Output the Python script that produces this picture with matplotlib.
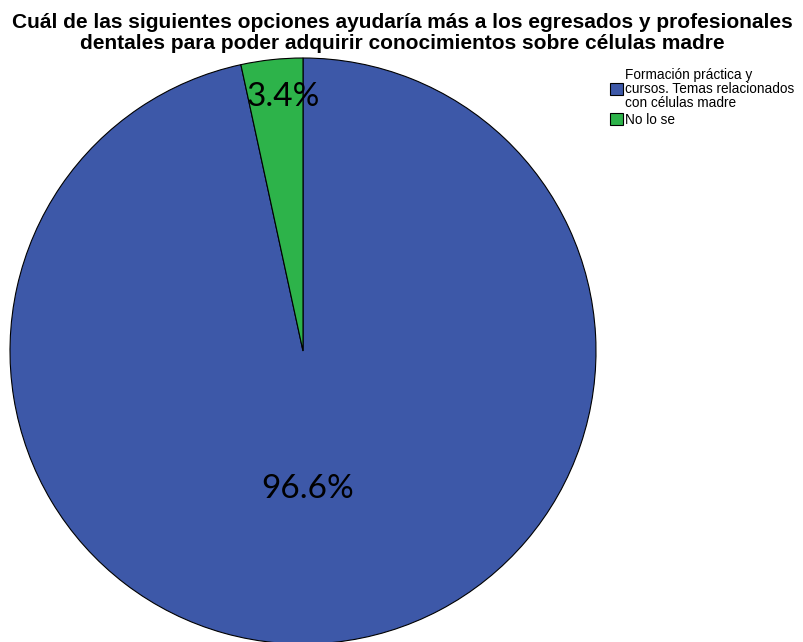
import matplotlib.pyplot as plt

categories = ["Formación práctica y\ncursos. Temas relacionados\ncon células madre", "No lo se"]
percentages = [96.6, 3.4]
colors = ["#3d58a8", "#2db34a"]
title = ("Cuál de las siguientes opciones ayudaría más a los egresados y profesionales\n"
         "dentales para poder adquirir conocimientos sobre células madre")

W, H = 804, 642
fig = plt.figure(figsize=(W / 100, H / 100), dpi=100)
fig.patch.set_facecolor("white")

cx, cy, r = 303, 351, 293
ax = fig.add_axes([(cx - r) / W, (H - cy - r) / H, 2 * r / W, 2 * r / H])
wedges, _ = ax.pie(percentages, colors=colors, startangle=90, counterclock=False,
                   radius=1, wedgeprops=dict(edgecolor="black", linewidth=0.8))
ax.set_xlim(-1, 1)
ax.set_ylim(-1, 1)
ax.set_aspect("equal")
ax.axis("off")

# percentage labels
label_pos = [(308, 489), (283, 97)]
for (px, py), val in zip(label_pos, percentages):
    fig.text(px / W, 1 - py / H, f"{val:.1f}%", ha="center", va="center",
             fontsize=24, family="Lato", color="black")

fig.text(0.5, 1 - 33 / H, title, ha="center", va="center", fontsize=15,
         fontweight="bold", family="Liberation Sans", linespacing=1.1)

leg = fig.legend(wedges, categories, loc="upper left", bbox_to_anchor=(600 / W, 1 - 58 / H),
                 frameon=False, prop={"family": "Liberation Sans", "size": 9.8},
                 handlelength=1.0, handleheight=1.0, handletextpad=0.15,
                 labelspacing=0.25, borderpad=0.2)
for t in leg.get_texts():
    t.set_linespacing(1.0)

fig.savefig("out.png", dpi=100)
